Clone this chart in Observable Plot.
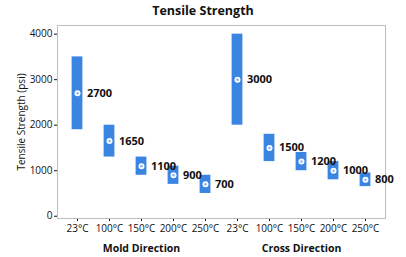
<!DOCTYPE html>
<html><head><meta charset="utf-8">
<script src="https://cdn.jsdelivr.net/npm/d3@7"></script>
<script src="https://cdn.jsdelivr.net/npm/@observablehq/plot@0.6"></script>
<style>
body{margin:0;background:#fff;font-family:"Open Sans",sans-serif;}
#title{width:406px;text-align:center;font-weight:bold;font-size:12.5px;height:22px;line-height:22px;color:#111;}
</style></head>
<body>
<div id="title">Tensile Strength</div>
<div id="chart"></div>
<script>
const groups = ["Mold Direction", "Cross Direction"];
const temps = ["23°C", "100°C", "150°C", "200°C", "250°C"];
const moldMean = [2700, 1650, 1100, 900, 700];
const moldLow = [1900, 1300, 900, 700, 500];
const moldHigh = [3500, 2000, 1300, 1100, 900];
const crossMean = [3000, 1500, 1200, 1000, 800];
const crossLow = [2000, 1200, 1000, 800, 650];
const crossHigh = [4000, 1800, 1400, 1200, 950];
const yTicks = [0, 1000, 2000, 3000, 4000];

const rows = [];
const series = [[moldMean, moldLow, moldHigh], [crossMean, crossLow, crossHigh]];
groups.forEach((g, gi) => temps.forEach((t, ti) => {
  rows.push({key: g + "|" + t, group: g, temp: t, mean: series[gi][0][ti], low: series[gi][1][ti], high: series[gi][2][ti]});
}));
const keys = rows.map(d => d.key);
const groupLabels = groups.map(g => ({key: g + "|" + temps[2], label: g}));
const blue = "#3a85e2";

const chart = Plot.plot({
  width: 406, height: 235,
  marginLeft: 57, marginRight: 21, marginTop: 3, marginBottom: 39,
  style: {fontFamily: "Open Sans, sans-serif", fontSize: "10px", color: "#111"},
  x: {type: "band", domain: keys, padding: 0, label: null, tickSize: 3, tickPadding: 3, tickFormat: k => k.split("|")[1]},
  y: {domain: [-50, 4190], ticks: yTicks, tickFormat: "d", tickSize: 3, tickPadding: 2, label: "Tensile Strength (psi)", labelAnchor: "center", labelArrow: "none", labelOffset: 40},
  marks: [
    Plot.frame({stroke: "#bdbdbd"}),
    Plot.barY(rows, {x: "key", y1: "low", y2: "high", fill: blue, insetLeft: 10.6, insetRight: 10.6}),
    Plot.dot(rows, {x: "key", y: "mean", r: 3, fill: "white"}),
    Plot.dot(rows, {x: "key", y: "mean", r: 1.3, fill: "#8fb8ee"}),
    Plot.text(rows, {x: "key", y: "mean", text: d => String(d.mean), dx: 9.5, textAnchor: "start", fontWeight: "bold", fontSize: 11, fill: "#111"}),
    Plot.text(groupLabels, {x: "key", text: "label", frameAnchor: "bottom", dy: 33, fontWeight: "bold", fontSize: 10.5, fill: "#111"})
  ]
});
document.getElementById("chart").appendChild(chart);
</script>
</body></html>
